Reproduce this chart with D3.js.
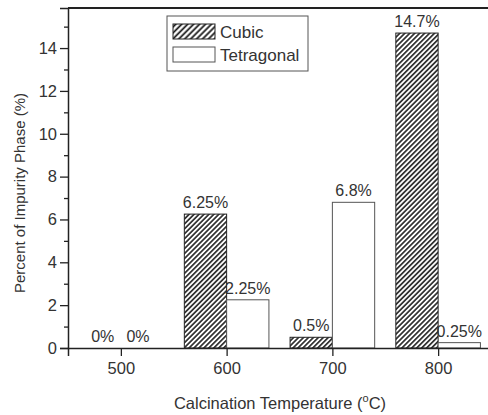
<!DOCTYPE html>
<html>
<head>
<meta charset="utf-8">
<script src="https://cdn.jsdelivr.net/npm/d3@7"></script>
<style>
  body { margin: 0; background: #fff; }
  svg { display: block; font-family: "Liberation Sans", Arial, sans-serif; }
</style>
</head>
<body>
<div id="chart"></div>
<script>
// data
var temperatures = [500, 600, 700, 800];
var cubic = [0, 6.25, 0.5, 14.7];
var tetragonal = [0, 2.25, 6.8, 0.25];
var cubicLabels = ["0%", "6.25%", "0.5%", "14.7%"];
var tetragonalLabels = ["0%", "2.25%", "6.8%", "0.25%"];
var yTicks = [0, 2, 4, 6, 8, 10, 12, 14];
var yMinorTicks = [1, 3, 5, 7, 9, 11, 13, 15];

var W = 488, H = 415;
var margin = { top: 8, right: -3, bottom: 67, left: 68 };
var barWidth = 40; // in temperature units

var svg = d3.select("#chart").append("svg")
  .attr("width", W)
  .attr("height", H);

var x = d3.scaleLinear()
  .domain([450, 850])
  .range([margin.left, W - margin.right]);

var y = d3.scaleLinear()
  .domain([0, 15.87])
  .range([H - margin.bottom, margin.top]);

// hatch pattern for the cubic bars
var defs = svg.append("defs");
defs.append("pattern")
  .attr("id", "hatch")
  .attr("patternUnits", "userSpaceOnUse")
  .attr("width", 3.5)
  .attr("height", 3.5)
  .attr("patternTransform", "rotate(45)")
  .append("line")
  .attr("x1", 1.75).attr("y1", 0)
  .attr("x2", 1.75).attr("y2", 3.5)
  .attr("stroke", "#111")
  .attr("stroke-width", 1.5);

defs.append("pattern")
  .attr("id", "hatchLegend")
  .attr("patternUnits", "userSpaceOnUse")
  .attr("width", 4.2)
  .attr("height", 4.2)
  .attr("patternTransform", "rotate(45)")
  .append("line")
  .attr("x1", 2.1).attr("y1", 0)
  .attr("x2", 2.1).attr("y2", 4.2)
  .attr("stroke", "#111")
  .attr("stroke-width", 1.7);

var rows = temperatures.map(function (t, i) {
  return { t: t, cubic: cubic[i], tetra: tetragonal[i], cl: cubicLabels[i], tl: tetragonalLabels[i] };
});

// cubic bars (left of the tick)
svg.selectAll(".cubic")
  .data(rows.filter(function (d) { return d.cubic > 0; }))
  .enter().append("rect")
  .attr("class", "cubic")
  .attr("x", function (d) { return x(d.t - barWidth); })
  .attr("width", function (d) { return x(d.t) - x(d.t - barWidth); })
  .attr("y", function (d) { return y(d.cubic); })
  .attr("height", function (d) { return y(0) - y(d.cubic); })
  .attr("fill", "url(#hatch)")
  .attr("stroke", "#222")
  .attr("stroke-width", 1);

// tetragonal bars (right of the tick)
svg.selectAll(".tetra")
  .data(rows.filter(function (d) { return d.tetra > 0; }))
  .enter().append("rect")
  .attr("class", "tetra")
  .attr("x", function (d) { return x(d.t); })
  .attr("width", function (d) { return x(d.t + barWidth) - x(d.t); })
  .attr("y", function (d) { return y(d.tetra); })
  .attr("height", function (d) { return y(0) - y(d.tetra); })
  .attr("fill", "#fff")
  .attr("stroke", "#555")
  .attr("stroke-width", 1);

// value labels (the 0% pair sits a little closer to the 500 tick)
svg.selectAll(".clabel")
  .data(rows)
  .enter().append("text")
  .attr("class", "clabel")
  .attr("x", function (d) { return x(d.t - barWidth / 2) + (d.cubic === 0 ? 3 : 0); })
  .attr("y", function (d) { return y(d.cubic) - 6; })
  .attr("text-anchor", "middle")
  .attr("font-size", 16)
  .attr("fill", "#333")
  .text(function (d) { return d.cl; });

svg.selectAll(".tlabel")
  .data(rows)
  .enter().append("text")
  .attr("class", "tlabel")
  .attr("x", function (d) { return x(d.t + barWidth / 2) - (d.tetra === 0 ? 4 : 0); })
  .attr("y", function (d) { return y(d.tetra) - 6; })
  .attr("text-anchor", "middle")
  .attr("font-size", 16)
  .attr("fill", "#333")
  .text(function (d) { return d.tl; });

// axes
var xAxis = d3.axisBottom(x).tickValues(temperatures).tickSize(8).tickPadding(6);
var yAxis = d3.axisLeft(y).tickValues(yTicks).tickSize(8).tickPadding(3);

var gx = svg.append("g")
  .attr("transform", "translate(0," + y(0) + ")")
  .call(xAxis);
var gy = svg.append("g")
  .attr("transform", "translate(" + x(450) + ",0)")
  .call(yAxis);

// minor y ticks
svg.append("g")
  .attr("transform", "translate(" + x(450) + ",0)")
  .call(d3.axisLeft(y).tickValues(yMinorTicks).tickSize(4).tickFormat(""))
  .select(".domain").remove();

[gx, gy].forEach(function (g) {
  g.select(".domain").attr("stroke", "#222").attr("stroke-width", 1.5);
  g.selectAll(".tick text").attr("font-size", 16.5).attr("fill", "#333")
    .attr("font-family", "Liberation Sans, Arial, sans-serif");
});
svg.selectAll(".tick line").attr("stroke", "#222").attr("stroke-width", 1.3);

// top and right frame
svg.append("line")
  .attr("x1", x(450)).attr("x2", x(850))
  .attr("y1", y.range()[1]).attr("y2", y.range()[1])
  .attr("stroke", "#222").attr("stroke-width", 2);
svg.append("line")
  .attr("x1", x(850)).attr("x2", x(850))
  .attr("y1", y.range()[1]).attr("y2", y(0))
  .attr("stroke", "#222").attr("stroke-width", 2);

// axis titles
var xt = svg.append("text")
  .attr("x", 280)
  .attr("y", 409)
  .attr("text-anchor", "middle")
  .attr("font-size", 16.5)
  .attr("fill", "#333");
xt.append("tspan").text("Calcination Temperature (");
xt.append("tspan").attr("dy", -7).attr("font-size", 11).text("o");
xt.append("tspan").attr("dy", 7).text("C)");

svg.append("text")
  .attr("transform", "translate(25,193) rotate(-90)")
  .attr("text-anchor", "middle")
  .attr("font-size", 15)
  .attr("fill", "#333")
  .text("Percent of Impurity Phase (%)");

// legend
var legend = svg.append("g").attr("transform", "translate(167,16)");
legend.append("rect")
  .attr("width", 141).attr("height", 55)
  .attr("fill", "#fff").attr("stroke", "#555").attr("stroke-width", 1);

var legendItems = [
  { name: "Cubic", fill: "url(#hatchLegend)", stroke: "#222" },
  { name: "Tetragonal", fill: "#fff", stroke: "#555" }
];
var li = legend.selectAll(".item")
  .data(legendItems)
  .enter().append("g")
  .attr("transform", function (d, i) { return "translate(6," + (8 + i * 23) + ")"; });
li.append("rect")
  .attr("width", 42).attr("height", 15)
  .attr("fill", function (d) { return d.fill; })
  .attr("stroke", function (d) { return d.stroke; });
li.append("text")
  .attr("x", 47).attr("y", 14)
  .attr("font-size", 17)
  .attr("fill", "#333")
  .text(function (d) { return d.name; });
</script>
</body>
</html>
